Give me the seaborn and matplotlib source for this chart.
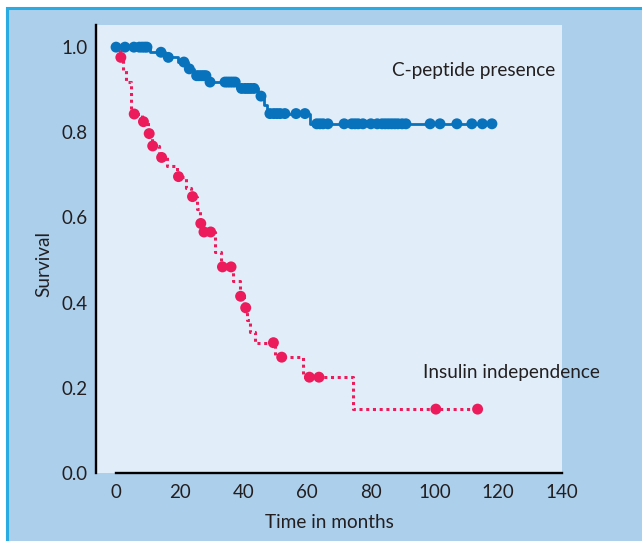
import numpy as np
import pandas as pd
import matplotlib
matplotlib.use("Agg")
import matplotlib.pyplot as plt
from matplotlib.patches import Rectangle
import seaborn as sns

# ----------------------------------
# Data
# ----------------------------------
# C-peptide presence: step times and survival after each step
cpep_step_t = [0, 10.5, 15.5, 19.5, 22.5, 24.5, 29.0, 38.0, 44.5, 46.3, 47.5, 61.0, 118.0]
cpep_step_s = [1.0, 0.988, 0.976, 0.965, 0.949, 0.933, 0.918, 0.903, 0.885, 0.864, 0.844, 0.82, 0.82]
cpep_marks = [0, 2.8, 5.6, 7.3, 8.2, 9.0, 9.7, 14.1, 16.4, 21.3, 23.0, 25.3, 26.0, 26.8,
              27.5, 28.2, 29.5, 34.2, 35.0, 35.8, 36.6, 37.4, 39.4, 40.5, 41.4, 42.3,
              43.3, 45.5, 48.3, 49.5, 50.5, 51.5, 53.0, 56.5, 59.3, 63.0, 64.0, 65.0,
              66.5, 71.6, 74.0, 75.0, 76.0, 77.5, 80.0, 82.0, 83.5, 84.5, 85.5, 86.5,
              87.5, 88.5, 89.8, 91.0, 98.6, 101.7, 107.0, 111.7, 115.0, 118.0]

# Insulin independence
ins_step_t = [0, 1.2, 2.1, 3.1, 4.7, 8.0, 10.0, 11.2, 13.5, 16.0, 19.0, 22.0, 23.5,
              25.5, 26.2, 27.2, 31.0, 33.0, 36.8, 38.8, 40.3, 41.0, 42.0, 43.6, 49.8,
              58.8, 74.5, 113.5]
ins_step_s = [1.0, 0.976, 0.946, 0.918, 0.843, 0.825, 0.797, 0.768, 0.741, 0.72, 0.696,
              0.67, 0.649, 0.62, 0.586, 0.566, 0.52, 0.484, 0.45, 0.415, 0.388, 0.36,
              0.33, 0.306, 0.272, 0.225, 0.15, 0.15]
ins_marks = [1.5, 5.7, 8.6, 10.4, 11.5, 14.3, 19.6, 24.0, 26.6, 27.6, 29.7, 33.4, 36.1,
             39.1, 40.7, 49.4, 52.0, 60.7, 63.7, 100.4, 113.5]

x_ticks = [0, 20, 40, 60, 80, 100, 120, 140]
y_ticks = [0.0, 0.2, 0.4, 0.6, 0.8, 1.0]

BLUE = "#0872bd"
PINK = "#ec1b5b"
TEXT = "#231f20"


def level_at(step_t, step_s, t):
    idx = np.searchsorted(step_t, t, side="right") - 1
    return np.asarray(step_s)[idx]


cpep_line = pd.DataFrame({"t": cpep_step_t, "s": cpep_step_s})
ins_line = pd.DataFrame({"t": ins_step_t, "s": ins_step_s})
cpep_pts = pd.DataFrame({"t": cpep_marks, "s": level_at(cpep_step_t, cpep_step_s, cpep_marks)})
ins_pts = pd.DataFrame({"t": ins_marks, "s": level_at(ins_step_t, ins_step_s, ins_marks)})

# ----------------------------------
# Figure
# ----------------------------------
sns.set_style("white")
plt.rcParams["font.family"] = ["Lato", "DejaVu Sans"]

fig = plt.figure(figsize=(6.42, 5.41), dpi=100, facecolor="white")
fig.patches.append(Rectangle((7 / 642, -0.1), 1.2, 1 - 8 / 541 + 0.1,
                             transform=fig.transFigure, facecolor="#accfec",
                             edgecolor="#2aabe2", linewidth=2.2, zorder=-5))

ax = fig.add_axes([96 / 642, 68 / 541, 466 / 642, 448 / 541])
ax.set_zorder(2)
ax.set_facecolor("#e1edf8")

sns.lineplot(data=cpep_line, x="t", y="s", ax=ax, color=BLUE, linewidth=2.0,
             drawstyle="steps-post", estimator=None, sort=False)
sns.lineplot(data=ins_line, x="t", y="s", ax=ax, color=PINK, linewidth=2.2,
             linestyle=(0, (1, 1.2)), drawstyle="steps-post", estimator=None, sort=False)
sns.scatterplot(data=cpep_pts, x="t", y="s", ax=ax, color=BLUE, s=62,
                edgecolor="none", zorder=3)
sns.scatterplot(data=ins_pts, x="t", y="s", ax=ax, color=PINK, s=62,
                edgecolor="none", zorder=3)

ax.set_xlim(-6.3, 140)
ax.set_ylim(0, 1.052)
ax.set_xticks(x_ticks)
ax.set_yticks(y_ticks)
ax.set_yticklabels([f"{v:.1f}" for v in y_ticks])

for side in ["top", "right"]:
    ax.spines[side].set_visible(False)
for side in ["left", "bottom"]:
    ax.spines[side].set_linewidth(1.7)
    ax.spines[side].set_color("black")
ax.spines["bottom"].set_bounds(0, 140)

ax.tick_params(axis="both", direction="in", length=5, width=1.7, color="black",
               labelsize=13.5, labelcolor=TEXT)
ax.tick_params(axis="x", pad=8)
ax.tick_params(axis="y", pad=6)

ax.set_xlabel("Time in months", fontsize=13.7, color=TEXT, labelpad=9)
ax.set_ylabel("Survival", fontsize=13.7, color=TEXT)
ax.yaxis.set_label_coords(-0.093, 0.4665)

ax.text(86.5, 0.944, "C-peptide presence", fontsize=13.7, color=TEXT, va="center", ha="left")
ax.text(96.4, 0.235, "Insulin independence", fontsize=13.7, color=TEXT, va="center", ha="left")

fig.savefig("out.png", dpi=100, facecolor=fig.get_facecolor())
